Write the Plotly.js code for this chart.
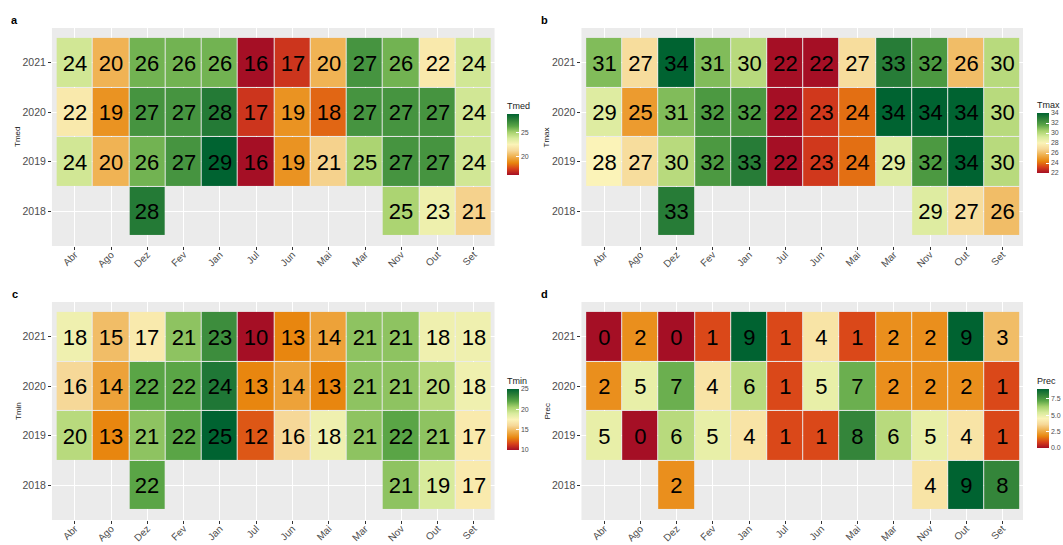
<!DOCTYPE html>
<html>
<head>
<meta charset="utf-8">
<script src="https://cdn.plot.ly/plotly-3.0.1.min.js"></script>
<style>
  html, body { margin: 0; padding: 0; background: #ffffff; }
  #chart { width: 1063px; height: 545px; }
</style>
</head>
<body>
<div id="chart"></div>
<script>
// Months (alphabetical, as labelled) and years
const months = ['Abr', 'Ago', 'Dez', 'Fev', 'Jan', 'Jul', 'Jun', 'Mai', 'Mar', 'Nov', 'Out', 'Set'];
const years = ['2018', '2019', '2020', '2021'];

// Monthly mean temperature (rows: 2018, 2019, 2020, 2021)
const tmed = [
  [null, null, 28, null, null, null, null, null, null, 25, 23, 21],
  [24, 20, 26, 27, 29, 16, 19, 21, 25, 27, 27, 24],
  [22, 19, 27, 27, 28, 17, 19, 18, 27, 27, 27, 24],
  [24, 20, 26, 26, 26, 16, 17, 20, 27, 26, 22, 24]
];

// Monthly maximum temperature
const tmax = [
  [null, null, 33, null, null, null, null, null, null, 29, 27, 26],
  [28, 27, 30, 32, 33, 22, 23, 24, 29, 32, 34, 30],
  [29, 25, 31, 32, 32, 22, 23, 24, 34, 34, 34, 30],
  [31, 27, 34, 31, 30, 22, 22, 27, 33, 32, 26, 30]
];

// Monthly minimum temperature
const tmin = [
  [null, null, 22, null, null, null, null, null, null, 21, 19, 17],
  [20, 13, 21, 22, 25, 12, 16, 18, 21, 22, 21, 17],
  [16, 14, 22, 22, 24, 13, 14, 13, 21, 21, 20, 18],
  [18, 15, 17, 21, 23, 10, 13, 14, 21, 21, 18, 18]
];

// Monthly precipitation
const prec = [
  [null, null, 2, null, null, null, null, null, null, 4, 9, 8],
  [5, 0, 6, 5, 4, 1, 1, 8, 6, 5, 4, 1],
  [2, 5, 7, 4, 6, 1, 5, 7, 2, 2, 2, 1],
  [0, 2, 0, 1, 9, 1, 4, 1, 2, 2, 9, 3]
];

// Colour-bar tick values
const tmedTicks = [20, 25];
const tmaxTicks = [22, 24, 26, 28, 30, 32, 34];
const tminTicks = [10, 15, 20, 25];
const precTicks = [0, 2.5, 5, 7.5];
const precTickText = ['0.0', '2.5', '5.0', '7.5'];

const W = 1063, H = 545;
const px = v => v / W;
const py = v => 1 - v / H;

// red - yellow - green diverging ramp
const ramp = [
  [0.0, '#a50f25'], [0.1, '#d8401a'], [0.2, '#e8860f'], [0.3, '#efb04e'],
  [0.4, '#f6d898'], [0.5, '#fbf3b8'], [0.6, '#d8eb9c'], [0.7, '#a8d26e'],
  [0.8, '#5aa546'], [0.9, '#2f8138'], [1.0, '#006331']
];

const FONT = 'Liberation Sans, Arial, sans-serif';
const CB_TITLE = 13; // room taken by a colour-bar title above its bar

function labels(z) {
  return z.map(row => row.map(v => (v === null ? '' : String(v))));
}

function minMax(z) {
  const flat = z.flat().filter(v => v !== null);
  return [Math.min(...flat), Math.max(...flat)];
}

const panels = [
  { z: tmed, name: 'Tmed', letter: 'a', ticks: tmedTicks, ticktext: null,
    gx: [52, 495], gy: [28, 246], cb: { x: 507, y0: 112, y1: 175 } },
  { z: tmax, name: 'Tmax', letter: 'b', ticks: tmaxTicks, ticktext: null,
    gx: [582, 1024], gy: [28, 246], cb: { x: 1037, y0: 111, y1: 173 } },
  { z: tmin, name: 'Tmin', letter: 'c', ticks: tminTicks, ticktext: null,
    gx: [52, 495], gy: [302, 520], cb: { x: 507, y0: 387, y1: 450 } },
  { z: prec, name: 'Prec', letter: 'd', ticks: precTicks, ticktext: precTickText,
    gx: [582, 1024], gy: [302, 520], cb: { x: 1037, y0: 387, y1: 448 } }
];

const data = [];
const layout = {
  width: W, height: H,
  margin: { l: 0, r: 0, t: 0, b: 0 },
  paper_bgcolor: '#ffffff',
  plot_bgcolor: '#ebebeb',
  font: { family: FONT, color: '#4d4d4d' },
  showlegend: false,
  annotations: []
};

panels.forEach((p, i) => {
  const n = i + 1;
  const xa = 'x' + (n === 1 ? '' : n);
  const ya = 'y' + (n === 1 ? '' : n);
  const [zmin, zmax] = minMax(p.z);
  const cbTop = p.cb.y0 - CB_TITLE;

  data.push({
    type: 'heatmap',
    x: months, y: years, z: p.z,
    text: labels(p.z),
    texttemplate: '%{text}',
    textfont: { family: FONT, size: 22, color: '#000000' },
    xaxis: xa, yaxis: ya,
    zmin: zmin, zmax: zmax,
    colorscale: ramp,
    xgap: 1, ygap: 1,
    hoverongaps: false,
    colorbar: {
      x: px(p.cb.x), xanchor: 'left', xpad: 0,
      y: py(cbTop), yanchor: 'top', ypad: 0,
      lenmode: 'pixels', len: p.cb.y1 - cbTop,
      thickness: 12,
      outlinewidth: 0,
      tickmode: 'array', tickvals: p.ticks,
      ticktext: p.ticktext || p.ticks.map(String),
      ticks: 'inside', ticklen: 3, tickcolor: '#ffffff', tickwidth: 1,
      tickfont: { family: FONT, size: 7, color: '#4d4d4d' },
      title: { text: p.name, side: 'top', font: { family: FONT, size: 9, color: '#222222' } }
    }
  });

  const axKey = n === 1 ? '' : String(n);
  layout['xaxis' + axKey] = {
    domain: [px(p.gx[0]), px(p.gx[1])],
    anchor: ya,
    type: 'category',
    categoryorder: 'array', categoryarray: months,
    range: [-0.63, 11.57],
    showgrid: true, gridcolor: '#ffffff', gridwidth: 1,
    zeroline: false, showline: false,
    ticks: 'outside', ticklen: 3, tickcolor: '#333333', tickwidth: 1,
    tickangle: -45,
    ticklabelstandoff: -5,
    tickfont: { family: FONT, size: 10, color: '#4d4d4d' },
    fixedrange: true
  };
  layout['yaxis' + axKey] = {
    domain: [py(p.gy[1]), py(p.gy[0])],
    anchor: xa,
    type: 'category',
    categoryorder: 'array', categoryarray: years,
    range: [-0.7, 3.7],
    showgrid: true, gridcolor: '#ffffff', gridwidth: 1,
    zeroline: false, showline: false,
    ticks: 'outside', ticklen: 3, tickcolor: '#333333', tickwidth: 1,
    tickfont: { family: FONT, size: 10.5, color: '#4d4d4d' },
    fixedrange: true
  };

  // panel letter
  layout.annotations.push({
    xref: 'paper', yref: 'paper',
    x: px(p.gx[0] - 37), y: py(p.gy[0] - 8),
    xanchor: 'center', yanchor: 'middle',
    text: '<b>' + p.letter + '</b>', showarrow: false,
    font: { family: FONT, size: 11, color: '#000000' }
  });
  // y-axis title
  layout.annotations.push({
    xref: 'paper', yref: 'paper',
    x: px(p.gx[0] - 34), y: py((p.gy[0] + p.gy[1]) / 2),
    xanchor: 'center', yanchor: 'middle',
    text: p.name, textangle: -90, showarrow: false,
    font: { family: FONT, size: 8, color: '#222222' }
  });
});

Plotly.newPlot('chart', data, layout, { displayModeBar: false, staticPlot: true });
</script>
</body>
</html>
